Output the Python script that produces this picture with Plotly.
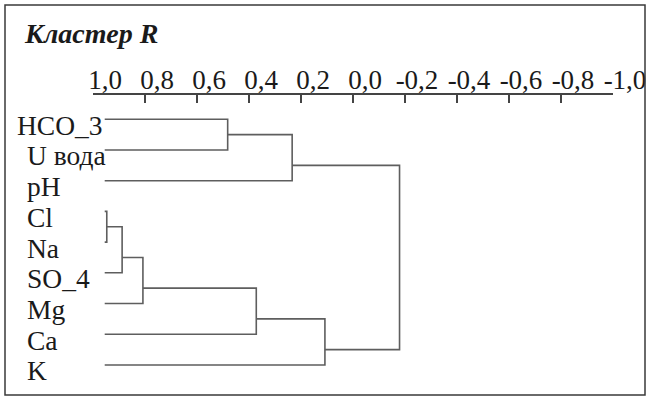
import plotly.graph_objects as go

# ---- data ----
leaves = ["HCO_3", "U вода", "pH", "Cl", "Na", "SO_4", "Mg", "Ca", "K"]
leaf_start = 0.955
# merges: (child a, child b, linkage value r); ids >= len(leaves) are earlier merges
merges = [
    (0, 1, 0.482),
    (9, 2, 0.234),
    (3, 4, 0.947),
    (11, 5, 0.888),
    (12, 6, 0.808),
    (13, 7, 0.372),
    (14, 8, 0.108),
    (10, 15, -0.179),
]
tick_vals = [1.0, 0.8, 0.6, 0.4, 0.2, 0.0, -0.2, -0.4, -0.6, -0.8, -1.0]
tick_text = ["1,0", "0,8", "0,6", "0,4", "0,2", "0,0", "-0,2", "-0,4", "-0,6", "-0,8", "-1,0"]
title_text = "Кластер R"

# ---- layout constants ----
W, H = 647, 398
ML, MR, MT, MB = 93, 34, 95, 18
FONT = "Liberation Serif"
LINE = "#5e5e5e"

n = len(leaves)
pos_y = {i: float(i) for i in range(n)}
pos_x = {i: leaf_start for i in range(n)}
xs, ys = [], []
for k, (a, b, h) in enumerate(merges):
    nid = n + k
    ya, yb = pos_y[a], pos_y[b]
    xs += [pos_x[a], h, h, pos_x[b], None]
    ys += [ya, ya, yb, yb, None]
    pos_y[nid] = max(ya, yb) - 0.5
    pos_x[nid] = h

fig = go.Figure()
fig.add_trace(go.Scatter(x=xs, y=ys, mode="lines",
                         line=dict(color=LINE, width=1.6), hoverinfo="skip",
                         showlegend=False))

pw, ph = W - ML - MR, H - MT - MB
def px_x(p):
    return (p - ML) / pw
def px_y(p):
    return (H - MB - p) / ph

for i, name in enumerate(leaves):
    fig.add_annotation(x=px_x(15 if name == "HCO_3" else 25),
                       xref="paper", y=i, yref="y", text=name, showarrow=False,
                       xanchor="left", yanchor="middle", yshift=-6,
                       font=dict(family=FONT, size=27.5, color="#1a1a1a"))

fig.add_shape(type="rect", xref="paper", yref="paper",
              x0=px_x(5), x1=px_x(645), y0=px_y(395), y1=px_y(5),
              line=dict(color="#3a3a3a", width=1.5))

fig.update_layout(
    width=W, height=H, autosize=False,
    margin=dict(l=ML, r=MR, t=MT, b=MB, autoexpand=False),
    paper_bgcolor="white", plot_bgcolor="white",
    title=dict(text=title_text, x=25 / W, xanchor="left", y=1 - 33 / H, yanchor="middle",
               xref="container", yref="container",
               font=dict(family=FONT, size=28, color="#1a1a1a", weight="bold", style="italic")),
    xaxis=dict(range=[1.0, -1.0], side="top", showgrid=False, zeroline=False,
               automargin=False,
               showline=True, linecolor="#444444", linewidth=1.5,
               ticks="inside", ticklen=8, tickwidth=1.5, tickcolor="#444444",
               tickvals=tick_vals, ticktext=tick_text, ticklabelshift=-12,
               ticklabelstandoff=-7,
               tickfont=dict(family=FONT, size=27, color="#1a1a1a")),
    yaxis=dict(range=[8.49, -0.79], showgrid=False, zeroline=False, showline=False,
               automargin=False, showticklabels=False, ticks=""),
)

fig.write_html("out.html",
               config={"displayModeBar": False, "responsive": False},
               post_script="document.documentElement.style.margin='0';document.body.style.margin='0';document.body.style.padding='0';document.body.style.overflow='hidden';")
